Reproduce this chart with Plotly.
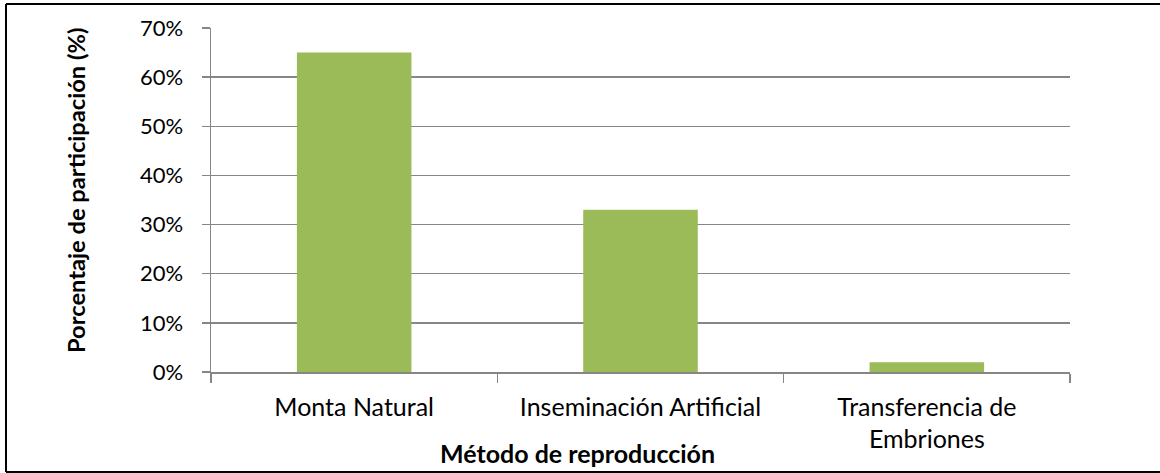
import plotly.graph_objects as go

categories = ["Monta Natural", "Inseminación Artificial", "Transferencia de<br>Embriones"]
values = [0.65, 0.33, 0.02]
y_ticks = [0, 0.1, 0.2, 0.3, 0.4, 0.5, 0.6, 0.7]
y_title = "Porcentaje de participación (%)"
x_title = "Método de reproducción"

W, H = 1160, 473
L, R, T, B = 211, 1070, 28, 372
pw, ph = R - L, B - T

def px(x):
    return (x - L) / pw

def py(y):
    return (B - y) / ph

FONT = "Lato, Carlito, Calibri, Open Sans, sans-serif"
GRID = "#868686"

fig = go.Figure(go.Bar(x=categories, y=values, marker=dict(color="#9BBB59", line=dict(width=0)),
                       hoverinfo="skip"))

fig.update_layout(
    width=W, height=H,
    margin=dict(l=L, r=W - R, t=T, b=H - B, pad=0),
    paper_bgcolor="white", plot_bgcolor="white",
    bargap=0.6, showlegend=False,
    font=dict(family=FONT, size=22, color="#000000"),
)
fig.update_yaxes(range=[0, 0.7], tickvals=y_ticks, tickformat=".0%",
                 showgrid=True, gridcolor=GRID, gridwidth=1.5,
                 showline=True, linecolor=GRID, linewidth=1.5,
                 ticks="outside", ticklen=8, tickcolor=GRID, tickwidth=1.5,
                 zeroline=False, tickfont=dict(size=22), ticklabelstandoff=14,
                 automargin=False)
fig.update_xaxes(showline=True, linecolor=GRID, linewidth=1.5,
                 ticks="outside", ticklen=9, tickcolor=GRID, tickwidth=1.5,
                 tickson="boundaries", showgrid=False,
                 tickfont=dict(size=25), ticklabelstandoff=12, automargin=False)

fig.add_annotation(x=px(76), y=py(191), xref="paper", yref="paper", text=f"<b>{y_title}</b>",
                   textangle=-90, showarrow=False, font=dict(size=23.7), xanchor="center", yanchor="middle")
fig.add_annotation(x=px(577), y=py(453), xref="paper", yref="paper", text=f"<b>{x_title}</b>",
                   showarrow=False, font=dict(size=25), xanchor="center", yanchor="middle")

bc = "#000000"
for x0, y0, x1, y1 in [(6, 4, 1165, 4), (6, 4, 6, 472), (6, 472, 1165, 472)]:
    fig.add_shape(type="line", xref="paper", yref="paper", x0=px(x0), y0=py(y0), x1=px(x1), y1=py(y1),
                  line=dict(color=bc, width=2))

fig.write_html("out.html", config={"displayModeBar": False, "staticPlot": True},
               post_script="document.body.style.margin='0';document.body.style.overflow='hidden';")
